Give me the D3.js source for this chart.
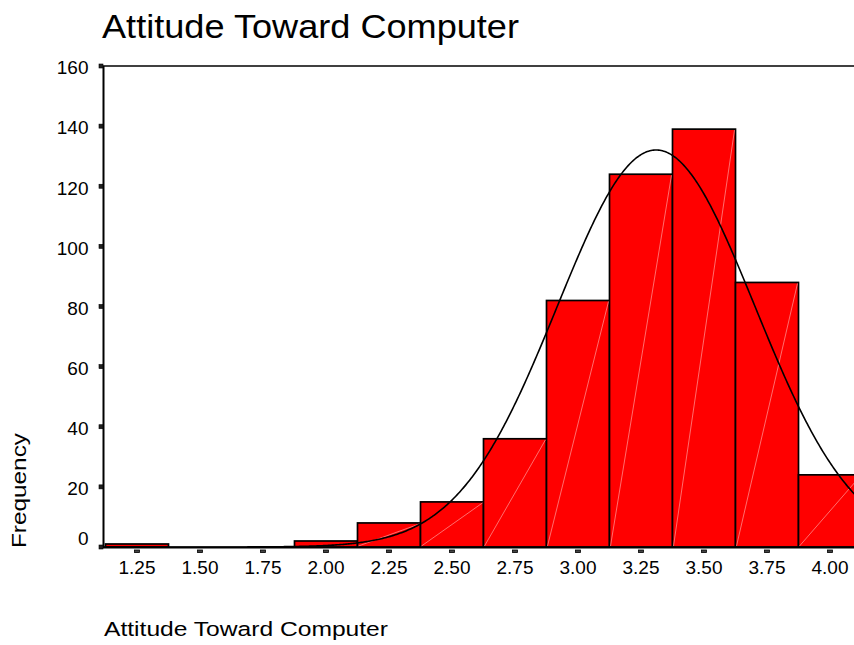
<!DOCTYPE html>
<html>
<head>
<meta charset="utf-8">
<script src="https://cdn.jsdelivr.net/npm/d3@7/dist/d3.min.js"></script>
<style>
  html, body { margin: 0; padding: 0; background: #ffffff; }
  svg { display: block; }
  text { font-family: "Liberation Sans", Arial, sans-serif; fill: #000; }
</style>
</head>
<body>
<script>
// Histogram bins (bin midpoints, width 0.25) and their frequencies
const binMids = [1.25, 1.50, 1.75, 2.00, 2.25, 2.50, 2.75, 3.00, 3.25, 3.50, 3.75, 4.00];
const frequencies = [1, 0, 0, 2, 8, 15, 36, 82, 124, 139, 88, 24];
const binWidth = 0.25;

// Tick labels
const xTickLabels = ["1.25", "1.50", "1.75", "2.00", "2.25", "2.50", "2.75", "3.00", "3.25", "3.50", "3.75", "4.00"];
const yTickValues = [0, 20, 40, 60, 80, 100, 120, 140, 160];

// Summary statistics for the normal curve overlay
const meanValue = 3.31;
const stdDev = 0.392;
const totalN = d3.sum(frequencies);

const titleText = "Attitude Toward Computer";
const xTitleText = "Attitude Toward Computer";
const yTitleText = "Frequency";

const W = 854, H = 645;
const plotLeft = 103, plotRight = 872, plotTop = 66, plotBottom = 547;

const svg = d3.select("body").append("svg")
  .attr("width", W).attr("height", H);

const x = d3.scaleLinear().domain([1.25, 4.00]).range([137, 830]);
const y = d3.scaleLinear().domain([0, 160]).range([plotBottom, plotTop]);

svg.append("defs").append("clipPath").attr("id", "plotClip")
  .append("rect")
  .attr("x", plotLeft).attr("y", plotTop - 6)
  .attr("width", plotRight - plotLeft).attr("height", plotBottom - plotTop + 8);

// Title
svg.append("text")
  .attr("x", 102).attr("y", 38)
  .attr("font-size", 34)
  .attr("textLength", 417).attr("lengthAdjust", "spacingAndGlyphs")
  .text(titleText);

const plot = svg.append("g").attr("clip-path", "url(#plotClip)");

const bins = binMids.map((m, i) => ({ mid: m, count: frequencies[i] }))
  .filter(d => d.count > 0);

// Bars
plot.selectAll("rect.bar").data(bins).enter().append("rect")
  .attr("class", "bar")
  .attr("x", d => x(d.mid - binWidth / 2))
  .attr("y", d => y(d.count))
  .attr("width", d => x(d.mid + binWidth / 2) - x(d.mid - binWidth / 2))
  .attr("height", d => y(0) - y(d.count))
  .attr("fill", "#ff0000")
  .attr("stroke", "#000")
  .attr("stroke-width", 1.7);

// Faint diagonal seams across each filled bar
plot.selectAll("line.seam").data(bins.filter(d => d.count >= 5)).enter().append("line")
  .attr("class", "seam")
  .attr("x1", d => x(d.mid - binWidth / 2) + 1)
  .attr("y1", y(0) - 1)
  .attr("x2", d => x(d.mid + binWidth / 2) - 1)
  .attr("y2", d => y(d.count) + 1)
  .attr("stroke", "#ff9c9c")
  .attr("stroke-width", 0.7);

// Normal curve scaled to the histogram counts
const curveXs = d3.range(1.10, 4.20, 0.005);
const normalCount = v => totalN * binWidth *
  Math.exp(-((v - meanValue) ** 2) / (2 * stdDev * stdDev)) / (stdDev * Math.sqrt(2 * Math.PI));
plot.append("path")
  .datum(curveXs)
  .attr("fill", "none")
  .attr("stroke", "#000")
  .attr("stroke-width", 1.6)
  .attr("d", d3.line().x(v => x(v)).y(v => y(normalCount(v))));

// Frame: top line, left axis, bottom axis
svg.append("line").attr("x1", plotLeft).attr("x2", W + 10)
  .attr("y1", plotTop).attr("y2", plotTop)
  .attr("stroke", "#000").attr("stroke-width", 1.6);
svg.append("line").attr("x1", plotLeft + 0.5).attr("x2", plotLeft + 0.5)
  .attr("y1", plotTop).attr("y2", plotBottom + 1)
  .attr("stroke", "#000").attr("stroke-width", 2);
svg.append("line").attr("x1", plotLeft).attr("x2", W + 10)
  .attr("y1", plotBottom + 0.5).attr("y2", plotBottom + 0.5)
  .attr("stroke", "#000").attr("stroke-width", 2);

// Y ticks and labels
const yAxisG = svg.append("g");
yAxisG.selectAll("rect").data(yTickValues).enter().append("rect")
  .attr("x", plotLeft - 4).attr("y", d => y(d) - 2)
  .attr("width", 4).attr("height", 4)
  .attr("fill", "#222").attr("stroke", "#000").attr("stroke-width", 0.6);
yAxisG.selectAll("text").data(yTickValues).enter().append("text")
  .attr("x", 88.5)
  .attr("y", d => d === 0 ? y(d) - 2 : y(d) + 8.3)
  .attr("text-anchor", "end")
  .attr("font-size", 19)
  .text(d => d);

// X ticks and labels
const xAxisG = svg.append("g");
xAxisG.selectAll("rect").data(binMids).enter().append("rect")
  .attr("x", d => x(d) - 2.5).attr("y", plotBottom + 3)
  .attr("width", 5).attr("height", 2.6)
  .attr("fill", "#444").attr("stroke", "#000").attr("stroke-width", 0.8);
xAxisG.selectAll("text").data(binMids).enter().append("text")
  .attr("x", d => x(d))
  .attr("y", 574)
  .attr("text-anchor", "middle")
  .attr("font-size", 19)
  .text((d, i) => xTickLabels[i]);

// Axis titles
svg.append("text")
  .attr("x", 104).attr("y", 636)
  .attr("font-size", 20.5)
  .attr("textLength", 284).attr("lengthAdjust", "spacingAndGlyphs")
  .text(xTitleText);

svg.append("text")
  .attr("transform", "translate(26,490.5) rotate(-90)")
  .attr("text-anchor", "middle")
  .attr("font-size", 20.5)
  .attr("textLength", 115).attr("lengthAdjust", "spacingAndGlyphs")
  .text(yTitleText);
</script>
</body>
</html>
